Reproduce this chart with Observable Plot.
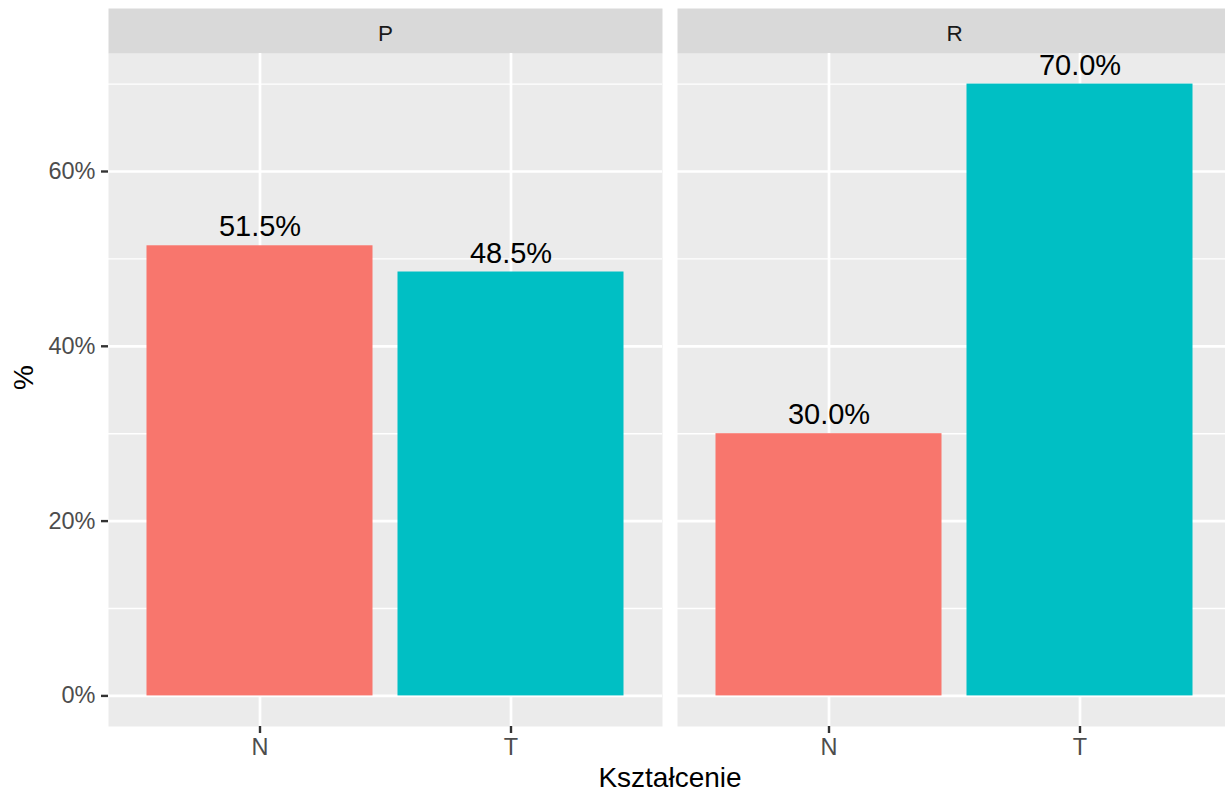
<!DOCTYPE html>
<html>
<head>
<meta charset="utf-8">
<script src="https://cdn.jsdelivr.net/npm/d3@7"></script>
<script src="https://cdn.jsdelivr.net/npm/@observablehq/plot@0.6"></script>
<style>
  html, body { margin: 0; padding: 0; overflow: hidden; background: white; }
  #wrap { width: 1232px; }
  #xtitle { width: 1232px; box-sizing: border-box; padding-left: 108px; text-align: center;
    font-family: "Liberation Sans", Arial, sans-serif; font-size: 28px; line-height: 36px; height: 36px; color: #000; }
</style>
</head>
<body>
<div id="wrap"></div>
<div id="xtitle">Kształcenie</div>
<script>
const panels = ["P", "P", "R", "R"];
const categories = ["N", "T", "N", "T"];
const values = [51.5, 48.5, 30.0, 70.0];
const facetNames = ["P", "R"];
const catDomain = ["N", "T"];
const colors = ["#F8766D", "#00BFC4"];
const majorTicks = [0, 20, 40, 60];
const minorTicks = [10, 30, 50, 70];
const yTitle = "%";

const data = panels.map((p, i) => ({panel: p, cat: categories[i], pct: values[i]}));

const font = "Liberation Sans, Arial, sans-serif";

const chart = Plot.plot({
  width: 1232,
  height: 760,
  marginLeft: 107.5,
  marginRight: 0,
  marginTop: 53,
  marginBottom: 34,
  style: {fontFamily: font, background: "white"},
  fx: {domain: facetNames, paddingInner: 15 / 570, paddingOuter: 0, axis: null, label: null},
  x: {domain: catDomain, paddingInner: 0.1, paddingOuter: 0.1512, label: null},
  y: {domain: [-3.5, 73.5], label: null},
  color: {domain: catDomain, range: colors},
  marks: [
    Plot.frame({fill: "#EBEBEB", stroke: null}),
    Plot.frame({fill: "#D9D9D9", stroke: null, insetTop: -45, insetBottom: 673}),
    Plot.text(facetNames, {fx: d => d, text: d => d, frameAnchor: "top", dy: -20, lineAnchor: "middle", fontSize: 22.5, fill: "#1A1A1A"}),
    Plot.gridY(minorTicks, {stroke: "white", strokeOpacity: 1, strokeWidth: 1.4}),
    Plot.gridY(majorTicks, {stroke: "white", strokeOpacity: 1, strokeWidth: 2.7}),
    Plot.gridX({stroke: "white", strokeOpacity: 1, strokeWidth: 2.7}),
    Plot.barY(data, {fx: "panel", x: "cat", y: "pct", fill: "cat"}),
    Plot.text(data, {fx: "panel", x: "cat", y: "pct", text: d => d.pct.toFixed(1) + "%", lineAnchor: "bottom", dy: -9.5, fontSize: 29, fill: "#000"}),
    Plot.axisY({ticks: majorTicks, tickFormat: d => d + "%", tickSize: 7, tickPadding: 6, stroke: "#333333", strokeWidth: 2.4, fill: "#4D4D4D", fontSize: 23.5, label: null}),
    Plot.axisX({tickSize: 7, tickPadding: 5, stroke: "#333333", strokeWidth: 2.4, fill: "#4D4D4D", fontSize: 23.5, label: null}),
    Plot.text([yTitle], {fx: () => facetNames[0], text: d => d, frameAnchor: "left", dx: -84, rotate: -90, fontSize: 28, fill: "#000", lineAnchor: "middle"})
  ]
});
document.getElementById("wrap").appendChild(chart);
</script>
</body>
</html>
